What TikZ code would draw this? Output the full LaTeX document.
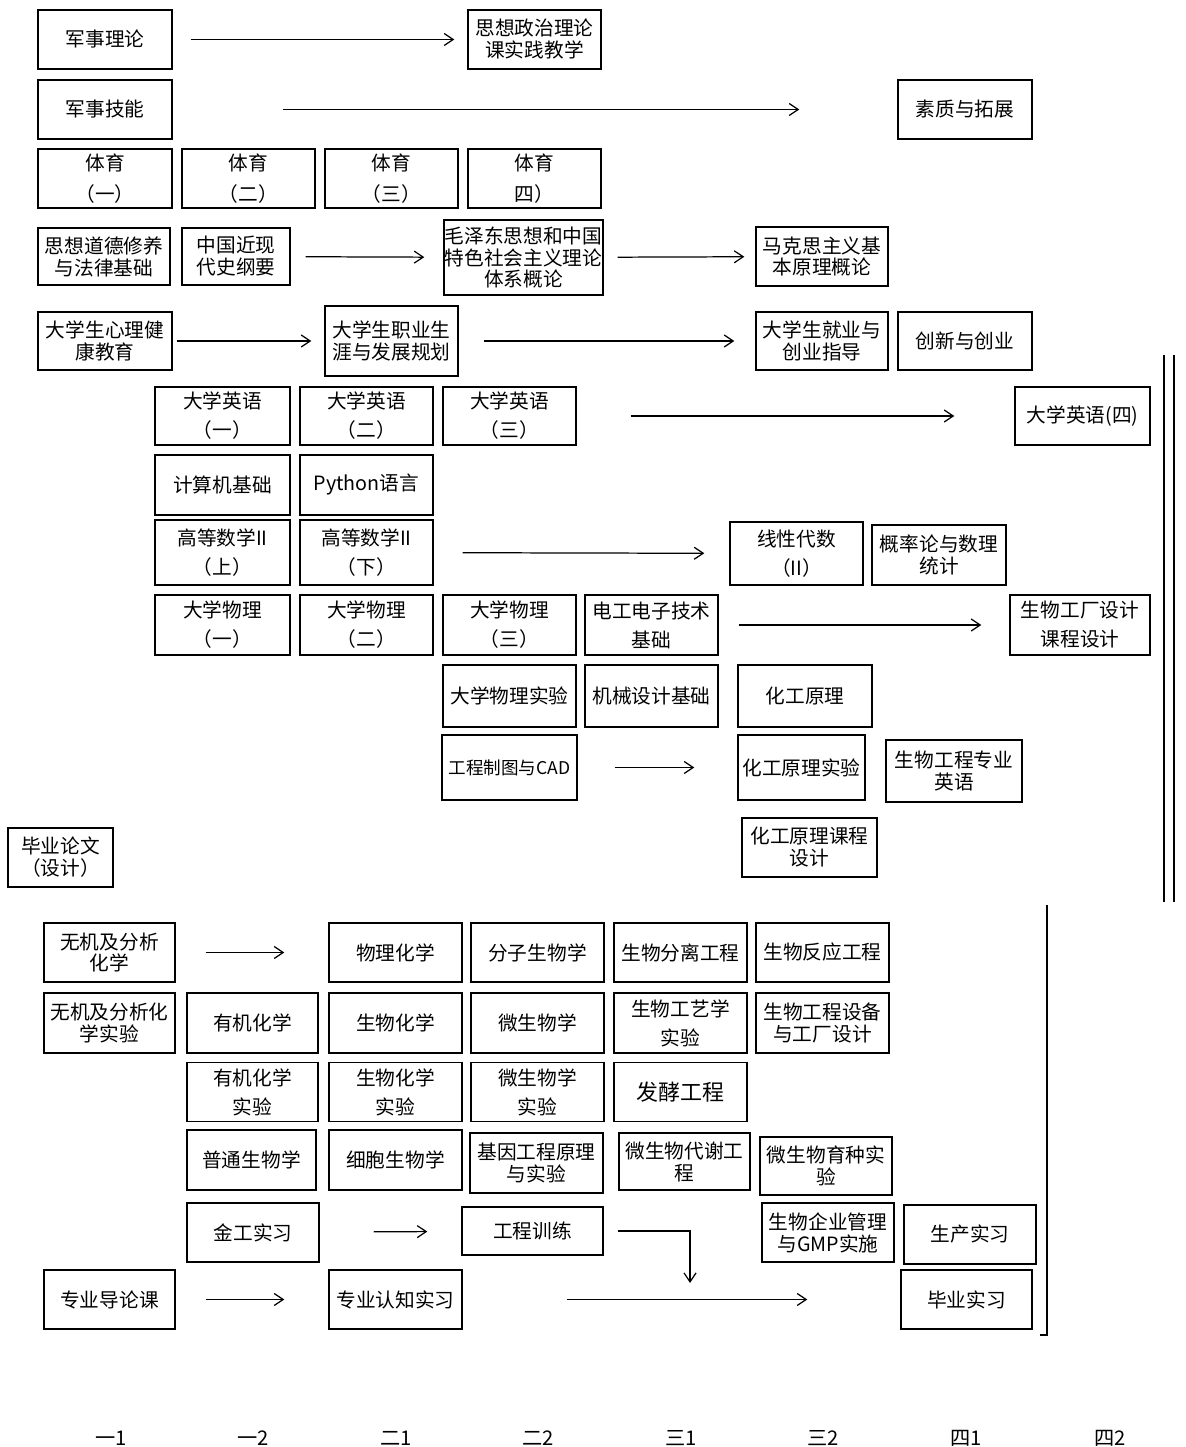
\documentclass[tikz,border=0pt]{standalone}
\usepackage{fontspec}
\setmainfont{Noto Sans CJK SC}
\usepackage{tikz}
\usetikzlibrary{arrows.meta}

\begin{document}
\begin{tikzpicture}[
    x=0.2mm, y=-0.2mm,
    font=\fontsize{11.2}{12.5}\selectfont,
    box/.style={draw, line width=0.8pt, align=center, inner sep=0pt, minimum width=26.6mm, minimum height=11.8mm},
    arr/.style={-{Straight Barb[length=1.8mm, width=2.4mm]}, line width=0.7pt},
    term/.style={font=\fontsize{11.5}{12}\selectfont}
]
\useasboundingbox (0,0) rectangle (1185,1447);

% 公共课
\node[box, minimum width=26.8mm] (jslt) at (105,39.5) {军事理论};
\node[box] (sxzz) at (534.5,39.5) {思想政治理论\\课实践教学};
\node[box, minimum width=26.8mm] (jsjn) at (105,109.5) {军事技能};
\node[box, minimum width=26.8mm] (sztz) at (965,109.5) {素质与拓展};
\draw[arr, shorten <=3.6mm, shorten >=2.6mm] (jslt) -- (sxzz);
\draw[arr, shorten <=22mm, shorten >=19.6mm] (jsjn) -- (sztz);

% 体育
\node[box, minimum width=26.8mm] (ty1) at (105,178.5) {体育\\[5pt]（一）};
\node[box] (ty2) at (248.5,178.5) {体育\\[5pt]（二）};
\node[box] (ty3) at (391.5,178.5) {体育\\[5pt]（三）};
\node[box] (ty4) at (534.5,178.5) {体育\\[5pt]四）};

% 思政课
\node[box, minimum width=26.4mm, minimum height=11.4mm] (sxdd) at (104,256.5) {思想道德修养\\与法律基础};
\node[box, minimum width=21.6mm, minimum height=11.4mm] (zgjx) at (236,256.5) {中国近现\\代史纲要};
\node[box, minimum width=31.8mm, minimum height=15mm] (mzd) at (523.5,257.5) {毛泽东思想和中国\\特色社会主义理论\\体系概论};
\node[box, minimum width=26.4mm] (mks) at (822,256.5) {马克思主义基\\本原理概论};
\draw[arr, shorten <=3mm, shorten >=3.8mm] (zgjx) -- (mzd);
\draw[arr, shorten <=2.8mm, shorten >=2.2mm] (mzd) -- (mks);

\node[box, minimum width=26.8mm, minimum height=11.6mm] (xljk) at (105,341) {大学生心理健\\康教育};
\node[box, minimum height=14mm] (zysy) at (391.5,341) {大学生职业生\\涯与发展规划};
\node[box, minimum width=26.4mm, minimum height=11.6mm] (jycy) at (822,341) {大学生就业与\\创业指导};
\node[box, minimum width=26.8mm, minimum height=11.6mm] (cxcy) at (965,341) {创新与创业};
\draw[arr, shorten <=0.8mm, shorten >=2.6mm] (xljk) -- (zysy);
\draw[arr, shorten <=5mm, shorten >=4.2mm] (zysy) -- (jycy);

% 基础课
\node[box, minimum width=27mm, minimum height=11.6mm] (yy1) at (222.5,416) {大学英语\\[4pt]（一）};
\node[box, minimum height=11.6mm] (yy2) at (366.5,416) {大学英语\\[4pt]（二）};
\node[box, minimum height=11.6mm] (yy3) at (509.5,416) {大学英语\\[4pt]（三）};
\node[box, minimum width=27mm, minimum height=11.6mm] (yy4) at (1082.5,416) {大学英语(四)};
\draw[arr, shorten <=10.8mm, shorten >=12mm] (yy3) -- (yy4);

\node[box, minimum width=27mm, minimum height=12mm] (jsj) at (222.5,485) {计算机基础};
\node[box, minimum height=12mm] (py) at (366.5,485) {Python语言};

\node[box, minimum width=27mm, minimum height=13mm] (gs1) at (222.5,552.5) {高等数学II\\[4pt]（上）};
\node[box, minimum height=13mm] (gs2) at (366.5,552.5) {高等数学II\\[4pt]（下）};
\node[box, minimum height=12.6mm] (xd) at (796.5,553.5) {线性代数\\[4pt]（II）};
\node[box, minimum width=26.8mm, minimum height=12mm] (gl) at (939,555) {概率论与数理\\统计};
\draw[arr, shorten <=5.8mm, shorten >=5mm] (gs2) -- (xd);

\node[box, minimum width=27mm, minimum height=12mm] (wl1) at (222.5,625) {大学物理\\[4pt]（一）};
\node[box, minimum height=12mm] (wl2) at (366.5,625) {大学物理\\[4pt]（二）};
\node[box, minimum height=12mm] (wl3) at (509.5,625) {大学物理\\[4pt]（三）};
\node[box, minimum height=12mm] (dg) at (651.5,625) {电工电子技术\\[4pt]基础};
\node[box, minimum width=28mm, minimum height=12mm] (gcsj) at (1080,625) {生物工厂设计\\[4pt]课程设计};
\draw[arr, shorten <=4mm, shorten >=5.6mm] (dg) -- (gcsj);

\node[box, minimum height=12.4mm] (wlsy) at (509.5,696) {大学物理实验};
\node[box, minimum height=12.4mm] (jx) at (651.5,696) {机械设计基础};
\node[box, minimum width=26.8mm, minimum height=12.4mm] (hgyl) at (805,696) {化工原理};

\node[box, minimum width=27mm, minimum height=13mm, font=\fontsize{10}{12}\selectfont] (gczt) at (509.5,767.5) {工程制图与CAD};
\node[box, minimum width=25.4mm, minimum height=13mm] (hgsy) at (801.5,767.5) {化工原理实验};
\node[box, minimum width=27.2mm, minimum height=12.4mm] (zyyy) at (954,771) {生物工程专业\\英语};
\draw[arr, shorten <=7.4mm, shorten >=8.6mm] (gczt) -- (hgsy);

\node[box, minimum width=27mm] (hgkc) at (809.5,847.5) {化工原理课程\\设计};
\node[box, minimum width=21mm] (bylw) at (60.5,857.5) {毕业论文\\（设计）};

% 右侧边线
\draw[line width=0.8pt] (1164,355) -- (1164,902);
\draw[line width=0.8pt] (1174,355) -- (1174,902);
\draw[line width=0.8pt] (1047,905) -- (1047,1335) -- (1040,1335);

% 专业课
\node[box, minimum width=26.2mm] (wjfx) at (109.5,952.5) {无机及分析\\化学};
\node[box] (wlhx) at (395.5,952.5) {物理化学};
\node[box] (fzsw) at (537.5,952.5) {分子生物学};
\node[box] (swfl) at (680.5,952.5) {生物分离工程};
\node[box] (swfy) at (822.5,952.5) {生物反应工程};
\draw[arr, shorten <=6mm, shorten >=8.8mm] (wjfx) -- (wlhx);

\node[box, minimum width=26.2mm, minimum height=12mm] (wjsy) at (109.5,1023) {无机及分析化\\学实验};
\node[box, minimum width=26.2mm, minimum height=12mm] (yjhx) at (252.5,1023) {有机化学};
\node[box, minimum height=12mm] (swhx) at (395.5,1023) {生物化学};
\node[box, minimum height=12mm] (wsw) at (537.5,1023) {微生物学};
\node[box, minimum height=12mm] (gysy) at (680.5,1023) {生物工艺学\\[4pt]实验};
\node[box, minimum height=12mm] (sbsj) at (822.5,1023) {生物工程设备\\与工厂设计};

\node[box, minimum width=26.2mm] (yjsy) at (252.5,1092) {有机化学\\[4pt]实验};
\node[box] (shsy) at (395.5,1092) {生物化学\\[4pt]实验};
\node[box] (wssy) at (537.5,1092) {微生物学\\[4pt]实验};
\node[box, font=\fontsize{12.5}{14}\selectfont] (fj) at (680.5,1092) {发酵工程};

\node[box, minimum width=25.8mm, minimum height=12mm] (ptsw) at (251.5,1160) {普通生物学};
\node[box, minimum height=12mm] (xbsw) at (395.5,1160) {细胞生物学};
\node[box, minimum height=12mm] (jygc) at (536.5,1163) {基因工程原理\\与实验};
\node[box, minimum width=26.2mm, minimum height=11.4mm] (dxgc) at (684.5,1161.5) {微生物代谢工\\程};
\node[box, minimum width=26.4mm, minimum height=11.6mm] (yzsy) at (826,1166) {微生物育种实\\验};

% 实践环节
\node[box, minimum width=26.4mm] (jgsx) at (253,1232.5) {金工实习};
\node[box, minimum width=28.2mm, minimum height=9.6mm] (gcxl) at (532.5,1231) {工程训练};
\node[box, minimum width=26.4mm] (qygl) at (828,1232.5) {生物企业管理\\与GMP实施};
\node[box, minimum width=26.4mm] (scsx) at (970,1234.5) {生产实习};
\draw[arr, shorten <=10.8mm, shorten >=6.8mm] (jgsx) -- (gcxl);
\coordinate (gcend) at (690,1283);
\draw[arr] ([xshift=2.8mm]gcxl.east) -| (gcend);

\node[box, minimum width=26.2mm] (zydl) at (109.5,1299.5) {专业导论课};
\node[box] (rzsx) at (395.5,1299.5) {专业认知实习};
\node[box, minimum width=26.2mm] (bysx) at (966.5,1299.5) {毕业实习};
\draw[arr, shorten <=6mm, shorten >=8.8mm] (zydl) -- (rzsx);
\draw[arr, shorten <=20.8mm, shorten >=18.6mm] (rzsx) -- (bysx);

% 学期
\foreach \t/\x [count=\i] in {一1/111, 一2/253, 二1/396, 二2/538, 三1/681, 三2/823, 四1/966, 四2/1110} {
    \node[term] (xq\i) at (\x,1438) {\t};
}

\end{tikzpicture}
\end{document}
